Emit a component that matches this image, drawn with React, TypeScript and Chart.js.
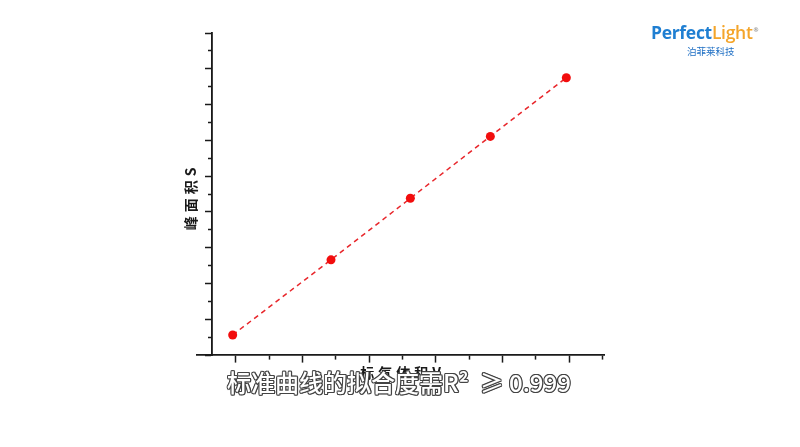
import React, { useEffect, useRef } from "react";
import { Chart, registerables } from "chart.js";

Chart.register(...registerables);

// ---- data ----
const volumes = [-0.45, 14.3, 26.2, 38.2, 49.6];
const peakAreas = [5.6, 26.6, 43.8, 61.1, 77.5];
const xMajorTicks = [0, 10, 20, 30, 40, 50];
const xMinorTicks = [5, 15, 25, 35, 45, 55];
const yMajorTicks = [0, 10, 20, 30, 40, 50, 60, 70, 80, 90];
const yMinorTicks = [5, 15, 25, 35, 45, 55, 65, 75, 85];
const yTitle = "峰面积S";
const xTitle = "标气体积V";
const caption = "标准曲线的拟合度需R²  ≥ 0.999";
const X_MIN = -5.8;
const X_MAX = 55.25;
const Y_MIN = 0;
const Y_MAX = 90;
const Y_AXIS_AT = -3.55;

const titlesPlugin = {
  id: "axisTitles",
  afterDraw(chart: any) {
    const { ctx, chartArea } = chart;
    ctx.save();
    ctx.fillStyle = "#1a1a1a";
    ctx.font = 'bold 14px "Noto Sans CJK SC"';
    ctx.textAlign = "center";
    ctx.textBaseline = "middle";
    try { (ctx as any).letterSpacing = "4px"; } catch (e) {}
    ctx.translate(chartArea.left - 6, (chartArea.top + chartArea.bottom) / 2 + 3);
    ctx.rotate(-Math.PI / 2);
    ctx.fillText(yTitle, 0, 0);
    ctx.restore();

    ctx.save();
    ctx.fillStyle = "#1a1a1a";
    ctx.font = 'bold 14px "Noto Sans CJK SC"';
    ctx.textAlign = "center";
    ctx.textBaseline = "middle";
    try { (ctx as any).letterSpacing = "4px"; } catch (e) {}
    ctx.fillText(xTitle, (chartArea.left + chartArea.right) / 2 + 2, chartArea.bottom + 18);
    ctx.restore();
  },
};

function tickAxis(
  axis: "x" | "y",
  values: number[],
  len: number,
  min: number,
  max: number,
  pos: any
) {
  return {
    type: "linear",
    axis,
    min,
    max,
    position: pos,
    afterBuildTicks: (scale: any) => {
      scale.ticks = values.map((v) => ({ value: v }));
    },
    ticks: { display: false },
    grid: {
      display: true,
      drawOnChartArea: false,
      drawTicks: true,
      tickLength: len,
      tickWidth: 1.5,
      tickColor: "#1a1a1a",
      color: "#1a1a1a",
    },
    border: { display: true, color: "#1a1a1a", width: 1.6 },
    title: { display: false },
  };
}

const outline = "#444444";

export default function App() {
  const ref = useRef<HTMLCanvasElement | null>(null);

  useEffect(() => {
    if (!ref.current) return;
    const points = volumes.map((v, i) => ({ x: v, y: peakAreas[i] }));
    const chart = new Chart(ref.current, {
      type: "scatter",
      data: {
        datasets: [
          {
            data: points,
            showLine: true,
            borderColor: "#e8262b",
            borderWidth: 1.5,
            borderDash: [5, 4],
            pointRadius: 4.5,
            pointBackgroundColor: "#f20d0d",
            pointBorderWidth: 0,
            xAxisID: "x",
            yAxisID: "y",
          } as any,
        ],
      },
      options: {
        animation: false,
        responsive: true,
        maintainAspectRatio: false,
        layout: { padding: { left: 197, right: 196, top: 33, bottom: 92 } },
        plugins: {
          legend: { display: false },
          tooltip: { enabled: false },
          title: { display: false },
        },
        scales: {
          x: tickAxis("x", xMajorTicks, 7, X_MIN, X_MAX, { y: Y_MIN }),
          x2: tickAxis("x", xMinorTicks, 4, X_MIN, X_MAX, { y: Y_MIN }),
          y: tickAxis("y", yMajorTicks, 6, Y_MIN, Y_MAX, { x: Y_AXIS_AT }),
          y2: tickAxis("y", yMinorTicks, 3, Y_MIN, Y_MAX, { x: Y_AXIS_AT }),
        } as any,
      },
      plugins: [titlesPlugin],
    });
    return () => chart.destroy();
  }, []);

  return (
    <div
      style={{
        position: "absolute",
        left: 0,
        top: 0,
        width: 800,
        height: 447,
        background: "#ffffff",
        overflow: "hidden",
      }}
    >
      <canvas ref={ref} />
      <div
        style={{
          position: "absolute",
          left: 651,
          top: 22,
          fontFamily: '"Open Sans", "Liberation Sans", sans-serif',
          fontWeight: 700,
          fontSize: 17.5,
          lineHeight: "20px",
          whiteSpace: "nowrap",
          letterSpacing: "-0.3px",
        }}
      >
        <span style={{ color: "#1f7fd2" }}>Perfect</span>
        <span style={{ color: "#f4a52a", fontWeight: 600 }}>Light</span>
        <span
          style={{
            color: "#8a8a8a",
            fontSize: 6,
            verticalAlign: "top",
            marginLeft: 1,
            position: "relative",
            top: -2,
          }}
        >
          ®
        </span>
      </div>
      <div
        style={{
          position: "absolute",
          left: 687,
          top: 45,
          fontFamily: '"Noto Sans CJK SC", sans-serif',
          fontSize: 9.5,
          lineHeight: "12px",
          color: "#1f6fc4",
          whiteSpace: "nowrap",
        }}
      >
        泊菲莱科技
      </div>
      <div
        style={{
          position: "absolute",
          left: 0,
          width: 798,
          top: 367,
          textAlign: "center",
          fontFamily: '"Noto Sans CJK SC", sans-serif',
          fontWeight: 500,
          fontSize: 24,
          lineHeight: "30px",
          color: "#ffffff",
          whiteSpace: "pre",
          textShadow: `1.1px 0 ${outline}, -1.1px 0 ${outline}, 0 1.1px ${outline}, 0 -1.1px ${outline}, 0.8px 0.8px ${outline}, -0.8px -0.8px ${outline}, 0.8px -0.8px ${outline}, -0.8px 0.8px ${outline}`,
        }}
      >
        {caption}
      </div>
    </div>
  );
}
